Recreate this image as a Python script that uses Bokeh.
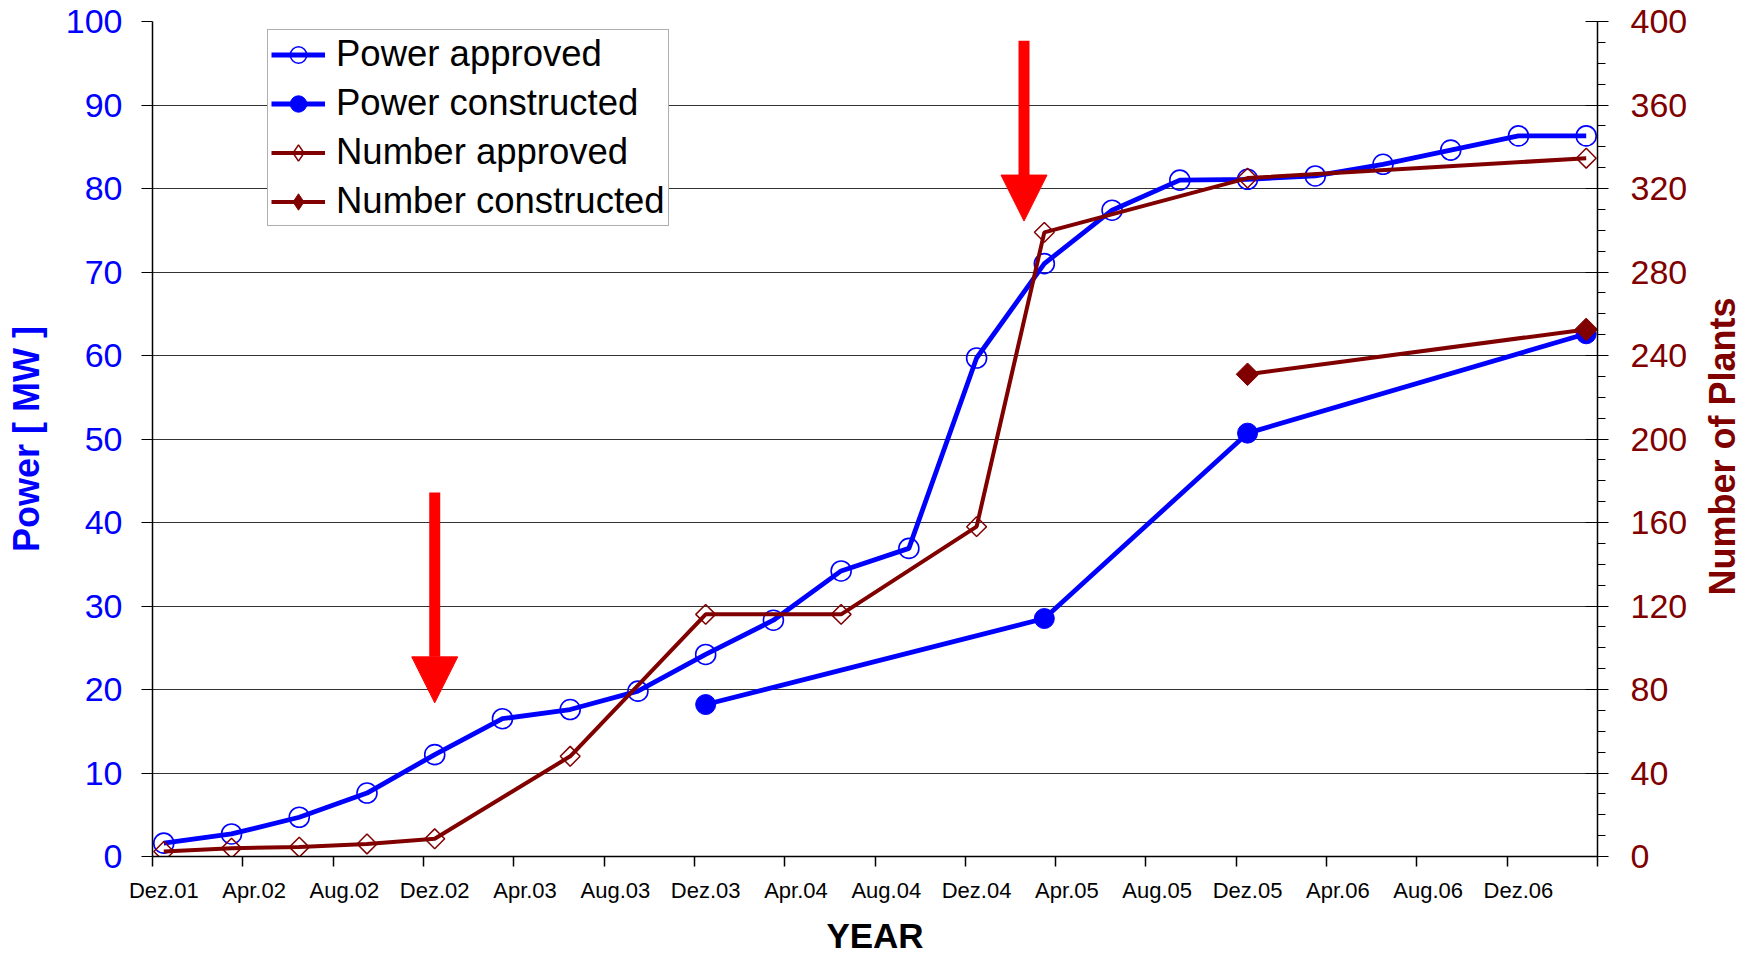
import math
from bokeh.plotting import figure
from bokeh.layouts import row
from bokeh.models import (Range1d, LinearAxis, FixedTicker, Legend, LegendItem,
                          Arrow, NormalHead, Label)
from bokeh.embed import file_html
from bokeh.resources import INLINE

# ---------------- data ----------------
quarters = ["Dez.01", "Mar.02", "Jun.02", "Sep.02", "Dez.02", "Mar.03", "Jun.03",
            "Sep.03", "Dez.03", "Mar.04", "Jun.04", "Sep.04", "Dez.04", "Mar.05",
            "Jun.05", "Sep.05", "Dez.05", "Mar.06", "Jun.06", "Sep.06", "Dez.06",
            "Mar.07"]
power_approved = [1.6, 2.7, 4.7, 7.6, 12.2, 16.5, 17.6, 19.8, 24.2, 28.3, 34.2,
                  36.9, 59.7, 71.0, 77.4, 81.0, 81.1, 81.5, 82.9, 84.6, 86.3, 86.3]
power_constructed = [None, None, None, None, None, None, None, None, 18.2, None,
                     None, None, None, 28.5, None, None, 50.7, None, None, None,
                     None, 62.6]
number_approved = [2.4, 4.0, 4.5, 6.0, 8.5, None, 48.0, None, 116.0, None, 116.0,
                   None, 158.0, 299.0, None, None, 325.0, None, None, None, None,
                   334.5]
number_constructed = [None] * 16 + [231.0, None, None, None, None, 252.5]

tick_labels = ["Dez.01", "Apr.02", "Aug.02", "Dez.02", "Apr.03", "Aug.03", "Dez.03",
               "Apr.04", "Aug.04", "Dez.04", "Apr.05", "Aug.05", "Dez.05", "Apr.06",
               "Aug.06", "Dez.06"]

# arrows (month index, MW)
arrow_x = [12.0, 38.1]
arrow_y_start = [43.6, 97.7]
arrow_y_end = [18.4, 76.1]

# ---------------- positions (months since Dez.01) ----------------
MONTHS_PER_QUARTER = 3
MONTHS_PER_LABEL = 4
x_all = [i * MONTHS_PER_QUARTER for i in range(len(quarters))]
last_month = x_all[-1]
label_pos = [i * MONTHS_PER_LABEL for i in range(len(tick_labels))]
boundaries = [b - 0.5 for b in range(0, last_month + 2, MONTHS_PER_LABEL)]


def pairs(vals):
    xs, ys = [], []
    for xv, yv in zip(x_all, vals):
        if yv is not None:
            xs.append(xv)
            ys.append(yv)
    return xs, ys


FONT = "Liberation Sans"
BLUE = "#0000FF"
DRED = "#800000"
NAN = float("nan")

H = 957
TOP, BOTTOM = 21, 97

p = figure(width=1698, height=H,
           x_range=Range1d(-0.5, last_month + 0.5), y_range=Range1d(0, 100),
           output_backend="svg", toolbar_location=None,
           min_border_left=152, min_border_right=101,
           min_border_top=TOP, min_border_bottom=BOTTOM)
p.extra_y_ranges = {"plants": Range1d(0, 400)}
p.outline_line_color = None
p.background_fill_color = "white"
p.border_fill_color = "white"

# x axis
xa = p.xaxis[0]
xa.ticker = FixedTicker(ticks=label_pos, minor_ticks=boundaries)
xa.major_label_overrides = {pos: lab for pos, lab in zip(label_pos, tick_labels)}
xa.major_tick_out = 0
xa.major_tick_in = 0
xa.minor_tick_out = 10
xa.minor_tick_in = 0
xa.minor_tick_line_color = "black"
xa.minor_tick_line_width = 1.5
xa.axis_line_color = "black"
xa.axis_line_width = 1.5
xa.major_label_text_font = FONT
xa.major_label_text_font_size = "22px"
xa.major_label_text_color = "black"
xa.major_label_standoff = 11
xa.axis_label = "YEAR"
xa.axis_label_text_font = FONT
xa.axis_label_text_font_style = "bold"
xa.axis_label_text_font_size = "35px"
xa.axis_label_text_color = "black"
xa.axis_label_standoff = 10

# left axis
ya = p.yaxis[0]
ya.ticker = FixedTicker(ticks=list(range(0, 101, 10)))
ya.major_tick_out = 11
ya.major_tick_in = 0
ya.minor_tick_out = 0
ya.minor_tick_in = 0
ya.axis_line_color = "black"
ya.axis_line_width = 1.5
ya.major_tick_line_color = "black"
ya.major_label_text_font = FONT
ya.major_label_text_font_size = "34px"
ya.major_label_text_color = BLUE
ya.major_label_standoff = 19
ya.axis_label = "Power [ MW ]"
ya.axis_label_text_font = FONT
ya.axis_label_text_font_style = "bold"
ya.axis_label_text_font_size = "36px"
ya.axis_label_text_color = BLUE
ya.axis_label_standoff = 16

# right axis
ra = LinearAxis(y_range_name="plants",
                ticker=FixedTicker(ticks=list(range(0, 401, 40)),
                                   minor_ticks=list(range(0, 401, 10))))
ra.major_tick_out = 11
ra.major_tick_in = 12
ra.minor_tick_out = 8
ra.minor_tick_in = 0
ra.axis_line_color = "black"
ra.axis_line_width = 1.5
ra.major_tick_line_color = "black"
ra.minor_tick_line_color = "black"
ra.major_label_text_font = FONT
ra.major_label_text_font_size = "34px"
ra.major_label_text_color = DRED
ra.major_label_standoff = 22
p.add_layout(ra, "right")

# grid
p.xgrid.visible = False
p.ygrid.ticker = FixedTicker(ticks=list(range(0, 101, 10)))
p.ygrid.grid_line_color = "#333333"
p.ygrid.grid_line_width = 1.2

# series
xs, ys = pairs(power_approved)
l1 = p.line(xs, ys, line_color=BLUE, line_width=4.8)
m1 = p.scatter(xs, ys, marker="circle", size=20, fill_alpha=0,
               line_color=BLUE, line_width=1.6)

xs, ys = pairs(power_constructed)
l2 = p.line(xs, ys, line_color=BLUE, line_width=4.8)
m2 = p.scatter(xs, ys, marker="circle", size=20, fill_color=BLUE,
               line_color=BLUE)

xs, ys = pairs(number_approved)
l3 = p.line(xs, ys, line_color=DRED, line_width=4, y_range_name="plants")
m3 = p.scatter(xs, ys, marker="square", angle=0.785398, size=14, fill_alpha=0,
               line_color=DRED, line_width=1.5, y_range_name="plants")

xs, ys = pairs(number_constructed)
l4 = p.line(xs, ys, line_color=DRED, line_width=4, y_range_name="plants")
m4 = p.scatter(xs, ys, marker="square", angle=0.785398, size=16, fill_color=DRED,
               line_color=DRED, y_range_name="plants")

# legend-only diamond glyphs (not drawn in the plot)
d3 = p.scatter([NAN], [NAN], marker="diamond", size=20, fill_alpha=0,
               line_color=DRED, line_width=1.5, y_range_name="plants")
d4 = p.scatter([NAN], [NAN], marker="diamond", size=20, fill_color=DRED,
               line_color=DRED, y_range_name="plants")

# arrows
for ax, y0, y1 in zip(arrow_x, arrow_y_start, arrow_y_end):
    p.add_layout(Arrow(x_start=ax, y_start=y0, x_end=ax, y_end=y1,
                       line_color="#FF0000", line_width=11,
                       end=NormalHead(size=46, fill_color="#FF0000",
                                      line_color="#FF0000", line_width=1)))

legend = Legend(items=[
    LegendItem(label="Power approved", renderers=[l1, m1]),
    LegendItem(label="Power constructed", renderers=[l2, m2]),
    LegendItem(label="Number approved", renderers=[l3, d3]),
    LegendItem(label="Number constructed", renderers=[l4, d4]),
], location=(115, 630))
legend.label_text_font = FONT
legend.label_text_font_size = "36.5px"
legend.label_text_color = "black"
legend.glyph_width = 54
legend.glyph_height = 41
legend.label_height = 41
legend.spacing = 7
legend.padding = 3
legend.margin = 0
legend.label_standoff = 11
legend.border_line_color = "#606060"
legend.border_line_width = 1
legend.background_fill_color = "white"
legend.background_fill_alpha = 1
p.add_layout(legend)

# right-hand axis title, reading bottom-to-top as in the original
t = figure(width=48, height=H, x_range=Range1d(0, 1), y_range=p.y_range,
           output_backend="svg", toolbar_location=None,
           x_axis_location=None, y_axis_location=None,
           min_border_left=0, min_border_right=0,
           min_border_top=TOP, min_border_bottom=BOTTOM)
t.grid.visible = False
t.outline_line_color = None
t.background_fill_color = "white"
t.border_fill_color = "white"
t.add_layout(Label(x=0.5, y=49.1, text="Number of Plants",
                   angle=math.pi / 2, text_align="center",
                   text_baseline="middle", text_font=FONT,
                   text_font_style="bold", text_font_size="36px",
                   text_color=DRED))

layout = row(p, t)
open("out.html", "w").write(file_html(layout, INLINE))
